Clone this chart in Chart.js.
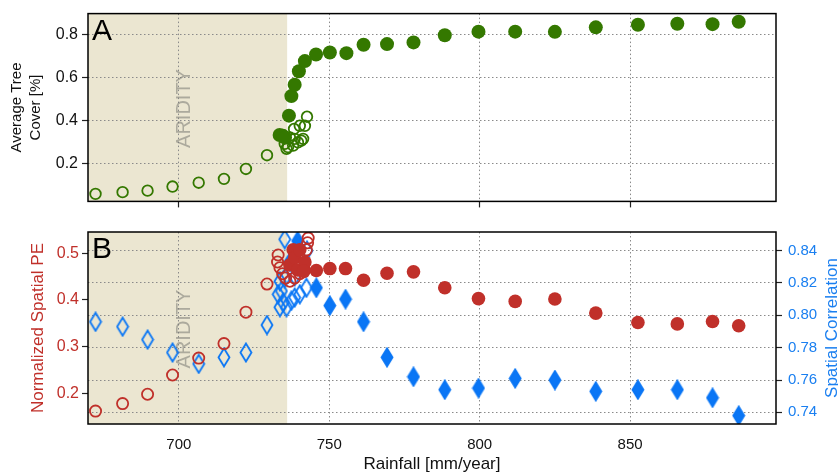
<!DOCTYPE html>
<html>
<head>
<meta charset="utf-8">
<script src="https://cdn.jsdelivr.net/npm/chart.js@4.4.0/dist/chart.umd.min.js"></script>
<style>
  body { margin: 0; background: #fff; }
  #wrap { position: relative; width: 838px; height: 475px; }
  #chartA { position: absolute; left: 0; top: 0; }
  #chartB { position: absolute; left: 0; top: 215px; }
</style>
</head>
<body>
<div id="wrap">
  <canvas id="chartA" width="838" height="215"></canvas>
  <canvas id="chartB" width="838" height="260"></canvas>
</div>
<script>
// rainfall axis
var rainMin = 669.8, rainMax = 898.5
var rainTicks = [700, 750, 800, 850]
var aridLimit = 736

// panel A - tree cover (open = below transition, filled = above)
var coverOpenRain = [672.3, 681.3, 689.6, 697.9, 706.6, 715.0, 722.3, 729.3, 735.2, 736.3, 736.9, 738.0, 738.5, 739.6, 740.2, 741.3, 741.9, 742.6, 735.8, 740.7, 738.3]
var coverOpen     = [0.060, 0.068, 0.075, 0.094, 0.112, 0.130, 0.176, 0.240, 0.293, 0.278, 0.323, 0.285, 0.316, 0.300, 0.377, 0.316, 0.377, 0.419, 0.270, 0.308, 0.362]
var coverFullRain = [733.5, 734.6, 735.3, 736.6, 737.4, 738.5, 739.9, 741.9, 745.6, 750.2, 755.7, 761.4, 769.2, 778.0, 788.4, 799.6, 811.8, 825.0, 838.6, 852.6, 865.7, 877.4, 886.1]
var coverFull     = [0.334, 0.330, 0.322, 0.424, 0.515, 0.568, 0.631, 0.678, 0.709, 0.718, 0.715, 0.754, 0.757, 0.765, 0.798, 0.815, 0.815, 0.814, 0.835, 0.847, 0.852, 0.850, 0.861]
var coverTicks = [0.2, 0.4, 0.6, 0.8]

// panel B - normalized spatial PE
var peOpenRain = [672.3, 681.3, 689.6, 697.9, 706.6, 715.0, 722.3, 729.3, 733.0, 732.8, 733.6, 734.5, 735.5, 736.9, 738.5, 740.2, 742.4, 743.0, 742.8, 741.5]
var peOpen     = [0.163, 0.179, 0.199, 0.240, 0.276, 0.307, 0.374, 0.434, 0.496, 0.481, 0.469, 0.456, 0.447, 0.440, 0.447, 0.456, 0.507, 0.532, 0.522, 0.468]
var peFullRain = [736.9, 738.0, 738.5, 739.5, 740.2, 741.9, 741.5, 745.7, 750.2, 755.4, 761.4, 769.2, 778.0, 788.4, 799.6, 811.8, 825.0, 838.6, 852.6, 865.7, 877.4, 886.1]
var peFull     = [0.475, 0.507, 0.490, 0.464, 0.507, 0.481, 0.461, 0.463, 0.467, 0.467, 0.442, 0.457, 0.460, 0.426, 0.403, 0.397, 0.402, 0.372, 0.352, 0.349, 0.354, 0.345]
var peTicks = [0.2, 0.3, 0.4, 0.5]

// panel B - spatial correlation
var corrOpenRain = [672.3, 681.3, 689.6, 697.9, 706.6, 715.0, 722.3, 729.3, 735.2, 733.6, 733.0, 734.7, 733.6, 735.8, 737.4, 738.5, 740.2, 742.4, 742.6, 735.2, 738.5, 734.1]
var corrOpen     = [0.796, 0.793, 0.785, 0.777, 0.770, 0.774, 0.777, 0.794, 0.847, 0.821, 0.813, 0.808, 0.805, 0.805, 0.809, 0.811, 0.813, 0.817, 0.840, 0.823, 0.824, 0.815]
var corrFullRain = [739.5, 736.9, 745.7, 750.2, 755.4, 761.4, 769.2, 778.0, 788.4, 799.6, 811.8, 825.0, 838.6, 852.6, 865.7, 877.4, 886.1]
var corrFull     = [0.846, 0.833, 0.817, 0.806, 0.810, 0.796, 0.774, 0.762, 0.754, 0.755, 0.761, 0.760, 0.753, 0.754, 0.754, 0.749, 0.738]
var corrTicks = [0.74, 0.76, 0.78, 0.80, 0.82, 0.84]

var green = '#347800'
var red = '#c0302a'
var blue = '#0a76f5'
var shade = '#ebe6d1'

Chart.defaults.font.family = '"Liberation Sans", Arial, sans-serif'
Chart.defaults.font.size = 15

function pts(xs, ys) {
  return xs.map(function (x, i) { return { x: x, y: ys[i] } })
}

// thin diamond marker, drawn once and reused as a point style
function diamond(filled) {
  var c = document.createElement('canvas')
  c.width = 14
  c.height = 21
  var g = c.getContext('2d')
  g.beginPath()
  g.moveTo(7, 1.5)
  g.lineTo(12.5, 10.5)
  g.lineTo(7, 19.5)
  g.lineTo(1.5, 10.5)
  g.closePath()
  g.lineWidth = 1.8
  g.strokeStyle = blue
  if (filled) {
    g.fillStyle = blue
    g.fill()
  }
  g.stroke()
  return c
}

function fixedTicks(list) {
  return function (s) { s.ticks = list.map(function (v) { return { value: v } }) }
}

var gridStyle = { color: '#8a8a8a', lineWidth: 1, tickColor: '#222', tickLength: 6, tickWidth: 1.2 }

var panelDecor = {
  id: 'panelDecor',
  beforeDraw: function (chart) {
    var ctx = chart.ctx, a = chart.chartArea
    var xr = chart.scales.x.getPixelForValue(aridLimit)
    ctx.save()
    ctx.fillStyle = shade
    ctx.fillRect(a.left, a.top, xr - a.left, a.bottom - a.top)
    ctx.restore()
  },
  beforeDatasetsDraw: function (chart) {
    var ctx = chart.ctx, a = chart.chartArea
    ctx.save()
    ctx.translate(chart.scales.x.getPixelForValue(702), (a.top + a.bottom) / 2 + 1)
    ctx.rotate(-Math.PI / 2)
    ctx.font = '20px "Liberation Sans", Arial, sans-serif'
    ctx.fillStyle = 'rgba(120,120,115,0.55)'
    ctx.textAlign = 'center'
    ctx.textBaseline = 'middle'
    ctx.fillText('ARIDITY', 0, 0)
    ctx.restore()
  },
  afterDraw: function (chart, args, opts) {
    var ctx = chart.ctx, a = chart.chartArea
    ctx.save()
    ctx.strokeStyle = '#000'
    ctx.lineWidth = 1.5
    ctx.strokeRect(a.left, a.top, a.right - a.left, a.bottom - a.top)
    ctx.fillStyle = '#000'
    ctx.font = '30px "Liberation Sans", Arial, sans-serif'
    ctx.textBaseline = 'alphabetic'
    ctx.fillText(opts.letter, a.left + 4, a.top + 26)
    if (opts.rightTitle) {
      ctx.translate(832, (a.top + a.bottom) / 2)
      ctx.rotate(-Math.PI / 2)
      ctx.font = '17px "Liberation Sans", Arial, sans-serif'
      ctx.fillStyle = '#1a7ff0'
      ctx.textAlign = 'center'
      ctx.textBaseline = 'middle'
      ctx.fillText(opts.rightTitle, 0, 0)
    }
    ctx.restore()
  }
}

//-------------
//- PANEL A -
//-------------
new Chart(document.getElementById('chartA'), {
  type: 'scatter',
  data: {
    datasets: [
      {
        data: pts(coverFullRain, coverFull),
        pointStyle: 'circle', pointRadius: 7,
        backgroundColor: green, borderColor: green, borderWidth: 0
      },
      {
        data: pts(coverOpenRain, coverOpen),
        pointStyle: 'circle', pointRadius: 5.3,
        backgroundColor: 'rgba(0,0,0,0)', borderColor: green, borderWidth: 1.8
      }
    ]
  },
  options: {
    responsive: false,
    animation: false,
    events: [],
    layout: { padding: { top: 11, right: 62, left: 0, bottom: 0 } },
    plugins: { legend: { display: false }, tooltip: { enabled: false }, panelDecor: { letter: 'A' } },
    scales: {
      x: {
        type: 'linear', min: rainMin, max: rainMax,
        afterBuildTicks: fixedTicks(rainTicks),
        ticks: { display: false },
        grid: gridStyle,
        border: { display: false, dash: [1.5, 2.5] },
        afterFit: function (s) { s.height = 13 }
      },
      y: {
        type: 'linear', position: 'left', min: 0.025, max: 0.899,
        afterBuildTicks: fixedTicks(coverTicks),
        ticks: { color: '#111', padding: 4, font: { size: 16 }, callback: function (v) { return v.toFixed(1) } },
        grid: gridStyle,
        border: { display: false, dash: [1.5, 2.5] },
        title: {
          display: true, text: ['Average Tree', 'Cover [%]'], color: '#111',
          font: { size: 15, lineHeight: 1.27 }, padding: { top: 7.5, bottom: 0 }
        },
        afterFit: function (s) { s.width = 88 }
      }
    }
  },
  plugins: [panelDecor]
})

//-------------
//- PANEL B -
//-------------
new Chart(document.getElementById('chartB'), {
  type: 'scatter',
  data: {
    datasets: [
      {
        data: pts(peFullRain, peFull), yAxisID: 'yPE',
        pointStyle: 'circle', pointRadius: 6.8,
        backgroundColor: red, borderColor: red, borderWidth: 0
      },
      {
        data: pts(peOpenRain, peOpen), yAxisID: 'yPE',
        pointStyle: 'circle', pointRadius: 5.6,
        backgroundColor: 'rgba(0,0,0,0)', borderColor: red, borderWidth: 1.8
      },
      {
        data: pts(corrFullRain, corrFull), yAxisID: 'yCorr',
        pointStyle: diamond(true)
      },
      {
        data: pts(corrOpenRain, corrOpen), yAxisID: 'yCorr',
        pointStyle: diamond(false)
      }
    ]
  },
  options: {
    responsive: false,
    animation: false,
    events: [],
    layout: { padding: { top: 17, right: 0, left: 0, bottom: 0 } },
    plugins: {
      legend: { display: false }, tooltip: { enabled: false },
      panelDecor: { letter: 'B', rightTitle: 'Spatial Correlation' }
    },
    scales: {
      x: {
        type: 'linear', min: rainMin, max: rainMax,
        afterBuildTicks: fixedTicks(rainTicks),
        ticks: { color: '#111', padding: 12 },
        grid: Object.assign({}, gridStyle, { drawTicks: false }),
        border: { display: false, dash: [1.5, 2.5] },
        title: {
          display: true, text: 'Rainfall [mm/year]', color: '#111',
          font: { size: 17 }, padding: { top: 0, bottom: 0 }
        },
        afterFit: function (s) { s.height = 51 }
      },
      yPE: {
        type: 'linear', position: 'left', min: 0.1355, max: 0.545,
        afterBuildTicks: fixedTicks(peTicks),
        ticks: { color: red, padding: 3, font: { size: 16 }, callback: function (v) { return v.toFixed(1) } },
        grid: Object.assign({}, gridStyle, { drawOnChartArea: false }),
        border: { display: false },
        title: {
          display: true, text: 'Normalized Spatial PE', color: red,
          font: { size: 17 }, padding: { top: 28, bottom: 0 }
        },
        afterFit: function (s) { s.width = 88 }
      },
      yCorr: {
        type: 'linear', position: 'right', min: 0.7328, max: 0.8515,
        afterBuildTicks: fixedTicks(corrTicks),
        ticks: { color: '#1a7ff0', padding: 6, callback: function (v) { return v.toFixed(2) } },
        grid: gridStyle,
        border: { display: false, dash: [1.5, 2.5] },
        afterFit: function (s) { s.width = 62 }
      }
    }
  },
  plugins: [panelDecor]
})
</script>
</body>
</html>
